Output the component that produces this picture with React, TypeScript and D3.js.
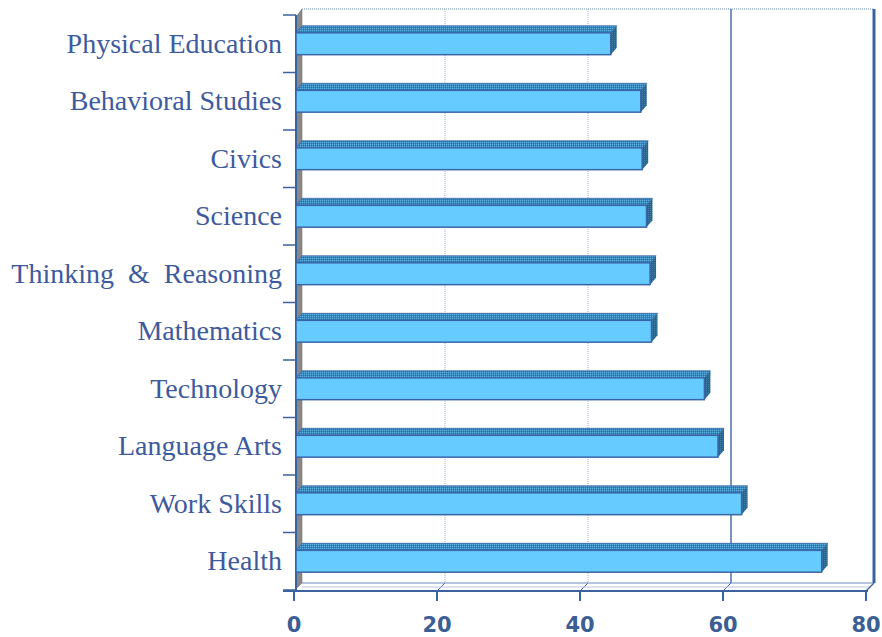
import React from "react";
import * as d3 from "d3";

const categories = [
  "Physical Education",
  "Behavioral Studies",
  "Civics",
  "Science",
  "Thinking  &  Reasoning",
  "Mathematics",
  "Technology",
  "Language Arts",
  "Work Skills",
  "Health",
];
const values = [44.3, 48.5, 48.7, 49.3, 49.8, 50.0, 57.4, 59.3, 62.6, 73.8];
const xTicks = [0, 20, 40, 60, 80];

const W = 882;
const H = 637;
const DX = 8; // wall depth x
const DY = 8; // wall depth y
const BDX = 6; // bar depth
const BDY = 7;

export default function App() {
  const x = d3.scaleLinear().domain([0, 80]).range([294, 866]);
  const y = d3
    .scaleBand<string>()
    .domain(categories)
    .range([15, 590])
    .paddingInner(0.62)
    .paddingOuter(0.31);
  const top = 15;
  const bottom = 591;
  const x0 = x(0);
  const x80 = x(80);
  const step = y.step();
  const catTicks = d3.range(categories.length + 1).map((i) => top + i * step);
  const labelColor = "#3d5a9e";
  const axisColor = "#3a62a0";

  return (
    <svg width={W} height={H} style={{ position: "absolute", left: 0, top: 0 }}>
      <defs>
        <pattern id="topPat" width="2" height="2" patternUnits="userSpaceOnUse">
          <rect width="2" height="2" fill="#3a88bc" />
          <rect width="1" height="1" fill="#5cb0e0" />
          <rect x="1" y="1" width="1" height="1" fill="#2d72a4" />
        </pattern>
        <pattern id="sidePat" width="2" height="2" patternUnits="userSpaceOnUse">
          <rect width="2" height="2" fill="#2c6488" />
          <rect width="1" height="1" fill="#3d7fa6" />
        </pattern>
      </defs>
      <rect width={W} height={H} fill="#ffffff" />
      {/* back wall */}
      <line
        x1={x0 + DX}
        x2={x80 + DX}
        y1={top - DY + 2}
        y2={top - DY + 2}
        stroke="#9fb3d3"
        strokeWidth={1.5}
        strokeDasharray="1 1"
      />
      {/* gridlines */}
      {xTicks.slice(1, 4).map((t) => (
        <g key={t}>
          <line
            x1={x(t) + DX}
            x2={x(t) + DX}
            y1={top - DY + 2}
            y2={bottom - DY}
            stroke={t === 60 ? "#4a6fa8" : "#9bb0d0"}
            strokeWidth={t === 60 ? 1.5 : 1}
            strokeDasharray={t === 60 ? undefined : "1 1"}
          />
          <line
            x1={x(t) + DX}
            x2={x(t)}
            y1={bottom - DY}
            y2={bottom}
            stroke={axisColor}
            strokeWidth={1}
          />
        </g>
      ))}
      {/* right edge of back wall */}
      <line
        x1={x80 + DX}
        x2={x80 + DX}
        y1={top - DY + 2}
        y2={bottom - DY}
        stroke="#3a62a0"
        strokeWidth={3}
      />
      {/* floor */}
      <line x1={x0 + DX} x2={x80 + DX} y1={bottom - DY} y2={bottom - DY} stroke="#6d8cbc" strokeWidth={1.2} />
      <line x1={x0 + DX} x2={x80 + 4} y1={bottom - 4} y2={bottom - 4} stroke="#b9c8e0" strokeWidth={1} />
      <line x1={x80} x2={x80 + DX} y1={bottom} y2={bottom - DY} stroke={axisColor} strokeWidth={1.2} />
      {/* left wall */}
      <polygon
        points={`${x0 + 2},${top + 2} ${x0 + DX},${top - DY + 2} ${x0 + DX},${bottom - DY} ${x0 + 2},${bottom - 2}`}
        fill="#888888"
        stroke="#6a6a6a"
        strokeWidth={0.5}
      />
      <line x1={x0 + 2} x2={x0 + 2} y1={top} y2={bottom} stroke={axisColor} strokeWidth={2} />
      {/* category ticks */}
      {catTicks.map((ty, i) => (
        <line key={i} x1={283} x2={x0 + 2} y1={ty} y2={ty} stroke={axisColor} strokeWidth={1.5} />
      ))}
      {/* bars */}
      {categories.map((c, i) => {
        const by = y(c)!;
        const bh = y.bandwidth();
        const bx0 = x0 + 2;
        const bx1 = x(values[i]);
        return (
          <g key={c}>
            <polygon
              points={`${bx0},${by} ${bx0 + BDX},${by - BDY} ${bx1 + BDX},${by - BDY} ${bx1},${by}`}
              fill="url(#topPat)"
              stroke="#3a66a8"
              strokeWidth={0.8}
            />
            <polygon
              points={`${bx1},${by} ${bx1 + BDX},${by - BDY} ${bx1 + BDX},${by + bh - BDY} ${bx1},${by + bh}`}
              fill="url(#sidePat)"
            />
            <rect x={bx0} y={by} width={bx1 - bx0} height={bh} fill="#66ccff" stroke="#3a66a8" strokeWidth={1.5} />
            <text
              x={282}
              y={by + bh / 2 + 9}
              textAnchor="end"
              fontFamily="'Liberation Serif', 'Times New Roman', serif"
              fontSize={28}
              fill={labelColor}
              style={{ whiteSpace: "pre" }}
            >
              {c}
            </text>
          </g>
        );
      })}
      {/* x axis */}
      <line x1={283} x2={x80 + 2} y1={bottom} y2={bottom} stroke={axisColor} strokeWidth={2} />
      {xTicks.map((t) => (
        <g key={t}>
          <line x1={x(t)} x2={x(t)} y1={bottom} y2={bottom + 10} stroke={axisColor} strokeWidth={2} />
          <text
            x={x(t)}
            y={632}
            textAnchor="middle"
            fontFamily="'DejaVu Sans', Verdana, sans-serif"
            fontWeight="bold"
            fontSize={21}
            fill="#3b5f95"
          >
            {t}
          </text>
        </g>
      ))}
    </svg>
  );
}
